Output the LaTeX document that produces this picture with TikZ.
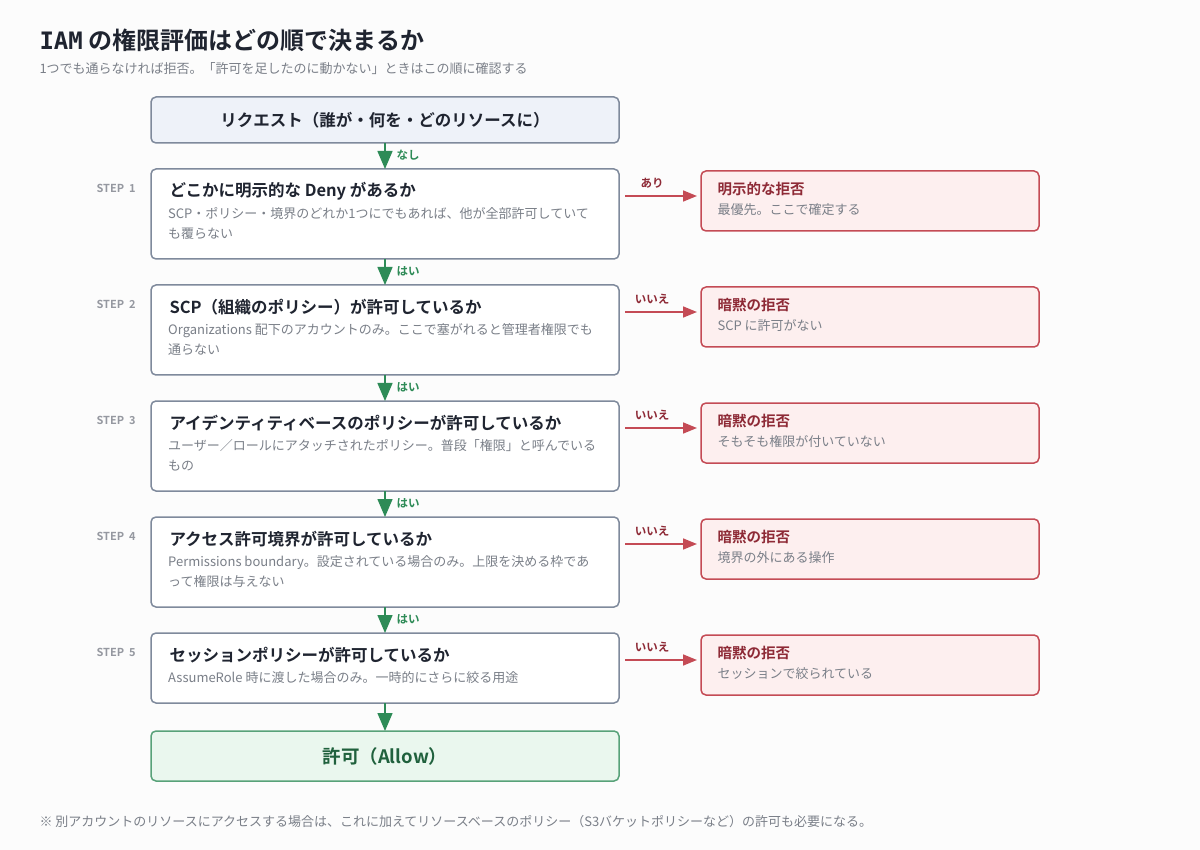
\documentclass[tikz,border=0pt]{standalone}
\usepackage{fontspec}
\setmainfont{Noto Sans CJK JP}
\newfontfamily\jpb{Noto Sans CJK JP Bold}
\newfontfamily\monob{DejaVu Sans Mono Bold}
\usetikzlibrary{arrows.meta}
\definecolor{bord}{HTML}{7F8A9C}
\definecolor{txt}{HTML}{1F2430}
\definecolor{sub}{HTML}{7A7F88}
\definecolor{grn}{HTML}{2E8B57}
\definecolor{red}{HTML}{C44B55}
\definecolor{redt}{HTML}{8E2A36}
\definecolor{reqf}{HTML}{EEF2F9}
\definecolor{redf}{HTML}{FDEFEF}
\definecolor{grnf}{HTML}{EAF7EE}
\begin{document}
\begin{tikzpicture}[x=1pt,y=-1pt,
 box/.style={draw=bord,line width=1.5pt,rounded corners=5pt,fill=white},
 rbox/.style={draw=red,line width=1.5pt,rounded corners=5pt,fill=redf},
 dn/.style={draw=grn,line width=1.5pt,-{Triangle[length=18pt,width=15pt]}},
 ra/.style={draw=red,line width=1.6pt,-{Triangle[length=14pt,width=11pt]}},
 gl/.style={text=grn,font=\jpb\fontsize{11.5}{13}\selectfont,anchor=west},
 rl/.style={text=redt,font=\jpb\fontsize{11.5}{13}\selectfont},
 st/.style={text=sub!80,font=\jpb\fontsize{11}{12}\selectfont,anchor=west},
 ht/.style={text=txt,font=\jpb\fontsize{16.5}{19}\selectfont,anchor=west},
 ds/.style={text=sub,font=\fontsize{13}{20}\selectfont,anchor=north west,align=left,inner sep=0pt},
 rt/.style={text=redt,font=\jpb\fontsize{14.5}{16}\selectfont,anchor=west},
 rd/.style={text=sub,font=\fontsize{13}{15}\selectfont,anchor=west}]
\fill[white!98!gray] (0,0) rectangle (1200,850);
\useasboundingbox (0,0) rectangle (1200,850);
\node[anchor=west,text=txt,font=\jpb\fontsize{24}{26}\selectfont] (title) at (36,40) {{\monob IAM} の権限評価はどの順で決まるか};
\node[anchor=west,text=sub,font=\fontsize{13}{15}\selectfont] (subt) at (36,69) {1つでも通らなければ拒否。「許可を足したのに動かない」ときはこの順に確認する};
\draw[box,fill=reqf] (151,97) rectangle (619,143);
\node[text=txt,font=\jpb\fontsize{16.5}{19}\selectfont] (req) at (385,120) {リクエスト（誰が・何を・どのリソースに）};
\foreach \i/\t/\b/\h/\d/\lab/\rl/\rh/\rdesc in {
 1/169/259/どこかに明示的な Deny があるか/{SCP・ポリシー・境界のどれか1つにでもあれば、他が全部許可していて\\も覆らない}/なし/あり/明示的な拒否/最優先。ここで確定する,
 2/285/375/SCP（組織のポリシー）が許可しているか/{Organizations 配下のアカウントのみ。ここで塞がれると管理者権限でも\\通らない}/はい/いいえ/暗黙の拒否/SCP に許可がない,
 3/401/491/アイデンティティベースのポリシーが許可しているか/{ユーザー／ロールにアタッチされたポリシー。普段「権限」と呼んでいる\\もの}/はい/いいえ/暗黙の拒否/そもそも権限が付いていない,
 4/517/607/アクセス許可境界が許可しているか/{Permissions boundary。設定されている場合のみ。上限を決める枠であ\\って権限は与えない}/はい/いいえ/暗黙の拒否/境界の外にある操作,
 5/633/703/セッションポリシーが許可しているか/{AssumeRole 時に渡した場合のみ。一時的にさらに絞る用途}/はい/いいえ/暗黙の拒否/セッションで絞られている}{
 \draw[box] (151,\t) rectangle (619,\b);
 \node[st] (s\i) at (93,\t+19) {STEP\ \ \i};
 \node[ht] (h\i) at (166,\t+22) {\h};
 \node[ds] (d\i) at (168,\t+38) {\d};
 \draw[dn] (385,\t-26) -- (385,\t);
 \node[gl] (g\i) at (393,\t-14) {\lab};
 \draw[rbox] (701,\t+2) rectangle (1039,\t+62);
 \node[rt] (rt\i) at (714,\t+20) {\rh};
 \node[rd] (rd\i) at (714,\t+41) {\rdesc};
 \draw[ra] (625,\t+27) -- (697,\t+27);
 \node[rl] (rl\i) at (652,\t+14) {\rl};
}
\draw[dn] (385,703) -- (385,731);
\draw[box,draw=grn!80,fill=grnf] (151,731) rectangle (619,781);
\node[text=grn!70!black,font=\jpb\fontsize{18.5}{21}\selectfont] (allow) at (385,756) {許可（Allow）};
\node[anchor=west,text=sub,font=\fontsize{13}{15}\selectfont] (note) at (36,822) {※ 別アカウントのリソースにアクセスする場合は、これに加えてリソースベースのポリシー（S3バケットポリシーなど）の許可も必要になる。};
\end{tikzpicture}
\end{document}
